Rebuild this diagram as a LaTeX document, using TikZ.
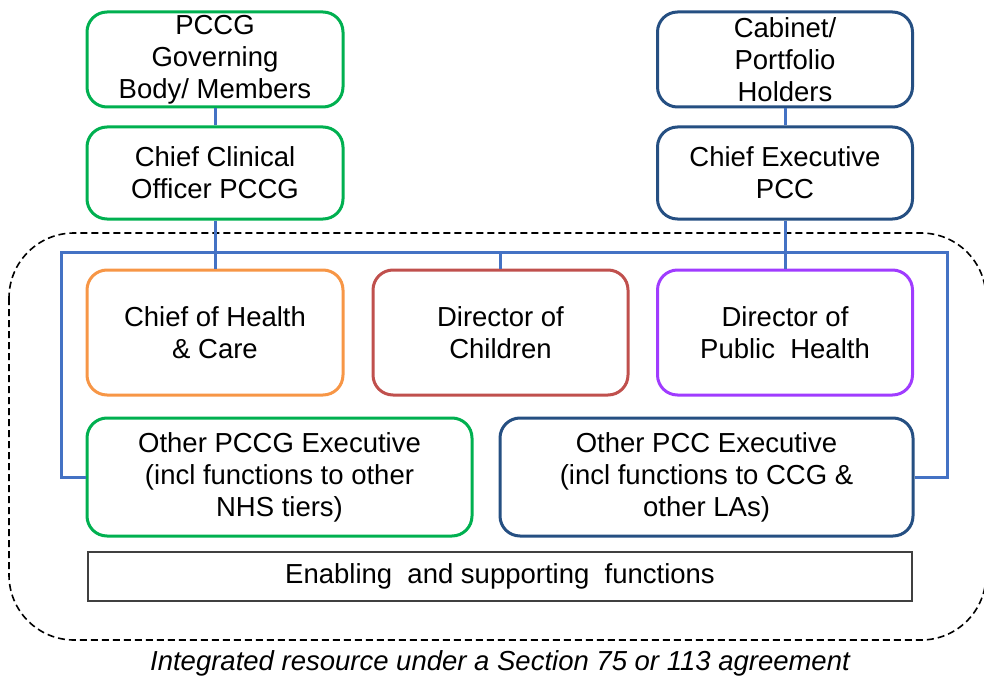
\documentclass[tikz,border=0pt]{standalone}
\usepackage{fontspec}
\setmainfont{Liberation Sans}
\definecolor{cgreen}{RGB}{0,176,80}
\definecolor{cdblue}{RGB}{37,79,130}
\definecolor{corange}{RGB}{247,150,70}
\definecolor{cred}{RGB}{192,80,77}
\definecolor{cpurple}{RGB}{160,60,255}
\definecolor{cline}{RGB}{68,114,196}
\begin{document}
\begin{tikzpicture}[x=1pt,y=-1pt,
  orgbox/.style={draw, line width=3pt, rounded corners=20pt, fill=white, align=center,
    font=\fontsize{27.5}{32}\selectfont, inner sep=0pt},
  conn/.style={draw=cline, line width=3pt},
  lbl/.style={font=\fontsize{27.5}{32}\selectfont}]
\useasboundingbox (0,0) rectangle (984,679);
% dashed outline
\draw[dashed, dash pattern=on 7pt off 4pt, line width=1.6pt, rounded corners=65pt] (9,233) rectangle (986,640);
% nodes
\node[orgbox, draw=cgreen, minimum width=256pt, minimum height=95pt] (gov) at (215,59.5) {PCCG\\Governing\\Body/ Members};
\node[orgbox, draw=cgreen, minimum width=256pt, minimum height=92pt] (cco) at (215,173) {Chief Clinical\\Officer PCCG};
\node[orgbox, draw=cdblue, minimum width=255pt, minimum height=95pt] (cab) at (785,59.5) {Cabinet/\\Portfolio\\Holders};
\node[orgbox, draw=cdblue, minimum width=255pt, minimum height=92pt] (ce) at (785,173) {Chief Executive\\PCC};
\node[orgbox, draw=corange, minimum width=256pt, minimum height=125pt] (hc) at (215,332.5) {Chief of Health\\\& Care};
\node[orgbox, draw=cred, minimum width=255pt, minimum height=125pt] (dc) at (500.5,332.5) {Director of\\Children};
\node[orgbox, draw=cpurple, minimum width=255pt, minimum height=125pt] (ph) at (785,332.5) {Director of\\Public\ \ Health};
\node[orgbox, draw=cgreen, minimum width=385pt, minimum height=118pt] (pccgx) at (279.5,477) {Other PCCG Executive\\(incl functions to other\\NHS tiers)};
\node[orgbox, draw=cdblue, minimum width=413pt, minimum height=118pt] (pccx) at (706.5,477) {Other PCC Executive\\(incl functions to CCG \&\\other LAs)};
\node[draw=black!75, line width=1.3pt, minimum width=824pt, minimum height=49pt, inner sep=0pt, lbl] (enab) at (500,576.5) {Enabling\ \ and supporting\ \ functions};
\node[lbl, font=\fontsize{27.5}{32}\selectfont\itshape] (cap) at (500,663) {Integrated resource under a Section 75 or 113 agreement};
% connectors
\coordinate (barL) at (61,252);
\coordinate (barR) at (947,252);
\draw[conn] (gov.south) -- (cco.north);
\draw[conn] (cab.south) -- (ce.north);
\draw[conn] (cco.south) -- (hc.north);
\draw[conn] (ce.south) -- (ph.north);
\draw[conn] (dc.north) -- (dc.north |- barL);
\draw[conn] (pccgx.west) -| (barL) -- (barR) |- (pccx.east);
\end{tikzpicture}
\end{document}
